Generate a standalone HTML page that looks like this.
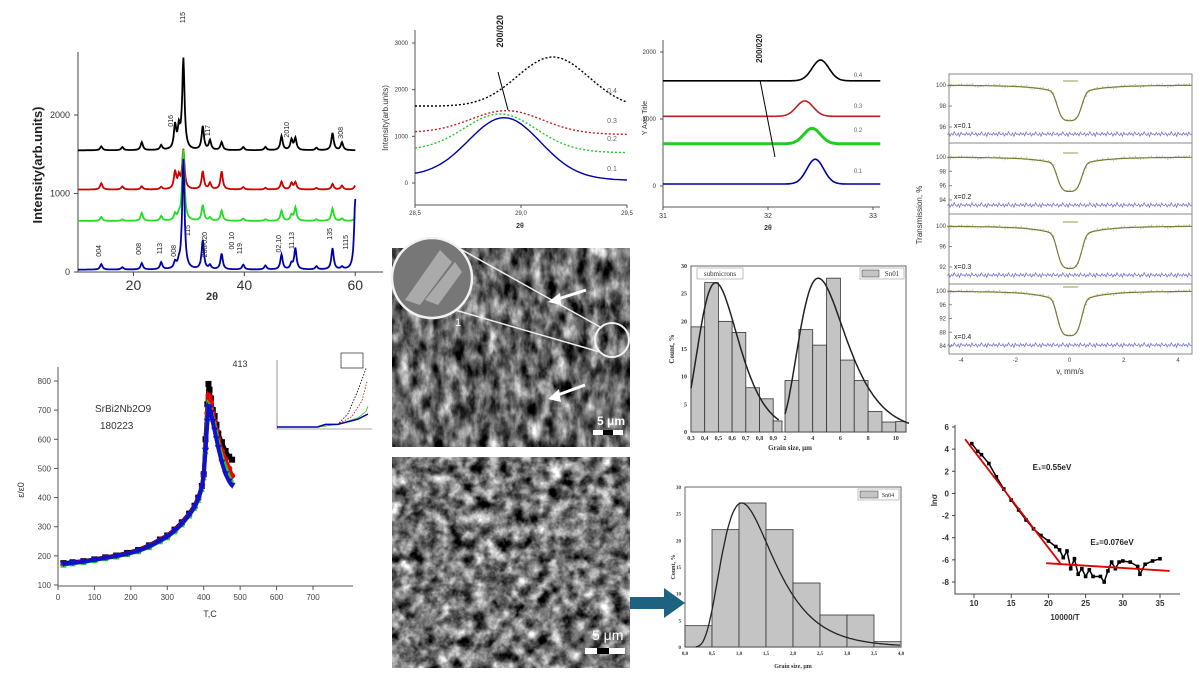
<!DOCTYPE html>
<html><head><meta charset="utf-8"><style>
html,body{margin:0;padding:0;background:#fff;}
svg{display:block;font-family:"Liberation Sans",sans-serif;}
</style></head><body>
<svg id="root" width="1200" height="675" viewBox="0 0 1200 675">
<defs>
<filter id="sem1" x="0" y="0" width="100%" height="100%" color-interpolation-filters="sRGB"><feTurbulence type="fractalNoise" baseFrequency="0.09 0.05" numOctaves="4" seed="3"/><feColorMatrix type="matrix" values="0.8 0.8 0.8 0 -0.8  0.8 0.8 0.8 0 -0.8  0.8 0.8 0.8 0 -0.8  0 0 0 0 1"/></filter>
<filter id="sem2" x="0" y="0" width="100%" height="100%" color-interpolation-filters="sRGB"><feTurbulence type="fractalNoise" baseFrequency="0.08" numOctaves="4" seed="7"/><feColorMatrix type="matrix" values="0.9 0.9 0.9 0 -0.9  0.9 0.9 0.9 0 -0.9  0.9 0.9 0.9 0 -0.9  0 0 0 0 1"/></filter>
</defs>
<g id="g-xrd"></g>
<g id="g-z1"></g>
<g id="g-z2"></g>
<g id="g-mb"></g>
<g id="g-diel"></g>
<g id="g-sem">
<rect x="392" y="248" width="238" height="199" fill="#555"/>
<rect x="392" y="248" width="238" height="199" fill="#777" filter="url(#sem1)"/>
<rect x="392" y="457" width="238" height="211" fill="#555"/>
<rect x="392" y="457" width="238" height="211" fill="#777" filter="url(#sem2)"/>
<line x1="455" y1="246" x2="602" y2="328" stroke="#eee" stroke-width="1.5"/>
<line x1="455" y1="310" x2="600" y2="352" stroke="#eee" stroke-width="1.5"/>
<circle cx="432" cy="278" r="40" fill="#777" stroke="#f2f2f2" stroke-width="2.5"/>
<path d="M405,300 L440,250 L452,262 L420,305 Z M425,300 L455,262 L462,272 L438,305Z" fill="#aaa"/>
<circle cx="612" cy="340" r="17" fill="none" stroke="#f2f2f2" stroke-width="2"/>
<text x="455" y="326" fill="#fff" font-size="11">1</text>
<path d="M586,290 L555,300" stroke="#fff" stroke-width="3"/><path d="M548,302 L560,293 L561,305Z" fill="#fff"/>
<path d="M585,385 L555,396" stroke="#fff" stroke-width="3"/><path d="M548,399 L559,389 L561,402Z" fill="#fff"/>
<text x="597" y="425" fill="#fff" font-size="12" font-weight="bold">5 μm</text>
<rect x="593" y="430" width="30" height="5" fill="#fff"/><rect x="603" y="430" width="10" height="5" fill="#000"/>
<text x="592" y="640" fill="#fff" font-size="14">5 μm</text>
<rect x="585" y="648" width="40" height="6" fill="#fff"/><rect x="597" y="648" width="12" height="6" fill="#000"/>
<rect x="630" y="597" width="36" height="12" fill="#1e6282"/><path d="M664,588 L685,603 L664,618Z" fill="#1e6282"/>
</g>
<g id="g-h1"></g>
<g id="g-h2"></g>
<g id="g-arr"></g>
</svg>
<script>
// ---------- DATA ----------
const xrdPeakPos=[14.2,18,21.5,25,27.5,28.2,29,32.5,33.8,35.9,39.8,43.8,46.7,48.5,49.2,53,55.9,57.6,60];
const xrdBlack=[50,40,100,60,300,250,1150,300,120,100,40,40,180,130,150,30,220,100,0];
const xrdRed=[80,40,40,30,220,150,500,230,80,230,30,20,100,80,90,20,70,50,50];
const xrdGreen=[50,20,100,60,80,60,900,200,40,130,30,20,130,70,170,20,160,30,50];
const xrdBlue=[70,30,80,90,80,60,1400,370,50,200,60,50,190,70,270,40,270,30,900];
const xrdBase=[1550,1050,650,30];
const xrdYTicks=[0,1000,2000];
const xrdXTicks=[20,40,60];
const z1Base=[1650,1080,700,150];
const z1End=[1600,1040,650,60];
const z1Peak=[2700,1550,1480,1400];
const z1Center=[29.15,28.93,28.9,28.92];
const z1Labels=["0.4","0.3","0.2","0.1"];
const z1XTicks=[28.5,29.0,29.5];
const z1YTicks=[0,1000,2000,3000];
const z2Base=[1570,1040,630,30];
const z2Peak=[1880,1270,860,400];
const z2Center=[32.5,32.35,32.42,32.45];
const z2XTicks=[31,32,33];
const z2YTicks=[0,1000,2000];
const mbDepth=[3.4,4.8,8.3,13];
const mbLabels=["x=0.1","x=0.2","x=0.3","x=0.4"];
const mbYTicks=[[100,98,96],[100,98,96,94],[100,96,92],[100,96,92,88,84]];
const mbResid=[0.3,-0.5,0.8,-0.2,0.4,-0.9,0.1,0.6,-0.4,0.9,-0.7,0.2,-0.1,0.5,-0.6,0.3,-0.3,0.7,-0.8,0.1];
const mbXTicks=[-4,-2,0,2,4];
const dielT=[15,40,70,100,130,160,190,220,250,280,300,320,340,360,375,385,395,400,405,410,413,416,420,425,430,435,440,450,460,470,478];
const dielBlack=[175,178,182,188,195,201,210,220,236,256,270,290,315,345,372,400,440,480,600,720,790,770,740,700,680,650,620,590,560,540,530];
const dielRed=[172,176,181,187,194,200,208,218,234,254,268,288,312,342,370,398,438,480,570,690,750,745,730,690,660,630,600,560,530,500,475];
const dielGreen=[170,174,179,185,192,198,206,216,230,250,264,284,308,338,365,392,430,470,560,670,720,715,700,670,645,615,585,540,505,470,455];
const dielBlue=[172,176,180,186,193,199,207,217,232,252,266,286,310,340,368,395,435,475,560,660,710,705,690,660,630,600,570,520,480,455,440];
const dielXTicks=[0,100,200,300,400,500,600,700];
const dielYTicks=[100,200,300,400,500,600,700,800];
const h1LeftBins=[0.3,0.4,0.5,0.6,0.7,0.8,0.9];
const h1LeftVals=[19,27,20,18,8,6,2];
const h1RightBins=[2,3,4,5,6,7,8,9,10];
const h1RightVals=[9.3,18.5,15.7,27.8,13,9.3,3.7,1.8,1.9];
const h2Bins=[0,0.5,1,1.5,2,2.5,3,3.5];
const h2Vals=[4,22,27,22,12,6,6,1];
const arrX=[9.7,10.5,11,12,13,14,15,16,17,18,19,20,21,21.5,22,22.5,23,23.5,24,24.5,25,25.5,26,27,27.5,28,28.5,29,29.5,30,31,32,32.3,33,34,35];
const arrY=[4.5,3.8,3.5,2.7,1.5,0.4,-0.6,-1.5,-2.4,-3.2,-3.8,-4.3,-4.8,-5.1,-5.8,-5.2,-6.8,-5.9,-7.3,-6.8,-7.5,-6.9,-7.5,-7.5,-8,-7,-6.2,-6.8,-6.2,-6.1,-6.2,-6.6,-7.3,-6.4,-6.1,-5.9];
const arrFit1=[[8.8,4.9],[21.6,-6.3]];
const arrFit2=[[19.7,-6.3],[36.3,-7.0]];
// ---------- HELPERS ----------
const NS="http://www.w3.org/2000/svg";
function lin(d0,d1,r0,r1){return v=>r0+(v-d0)*(r1-r0)/(d1-d0);}
function mk(parent,tag,attrs,txt){const e=document.createElementNS(NS,tag);for(const k in attrs)e.setAttribute(k,attrs[k]);if(txt!==undefined)e.textContent=txt;parent.appendChild(e);return e;}
function txt(g,x,y,s,size,opt){opt=opt||{};const e=mk(g,'text',{x:x,y:y,'font-size':size,fill:opt.fill||'#333','text-anchor':opt.anchor||'middle','font-weight':opt.bold?'bold':'normal','font-family':opt.serif?'"Liberation Serif",serif':'"Liberation Sans",sans-serif'},s);if(opt.rot!==undefined)e.setAttribute('transform','rotate('+opt.rot+' '+x+' '+y+')');return e;}
function pathD(pts){return pts.map((p,i)=>(i?'L':'M')+p[0].toFixed(1)+','+p[1].toFixed(1)).join('');}
// ---------- XRD ----------
(function(){
const g=document.getElementById('g-xrd');
const X=lin(10,65,78,383),Y=lin(0,2000,272,115);
mk(g,'path',{d:'M78,52V272H383',fill:'none',stroke:'#444'});
xrdYTicks.forEach(t=>{mk(g,'line',{x1:74,x2:78,y1:Y(t),y2:Y(t),stroke:'#444'});txt(g,70,Y(t)+3,t,9,{anchor:'end'});});
xrdXTicks.forEach(t=>{mk(g,'line',{x1:X(t),x2:X(t),y1:272,y2:276,stroke:'#444'});txt(g,X(t),290,t,14);});
txt(g,42,165,'Intensity(arb.units)',13,{rot:-90,bold:true,fill:'#222'});
txt(g,212,300,'2θ',11,{bold:true});
const sets=[[xrdBlack,'#000'],[xrdRed,'#c00'],[xrdGreen,'#2d2'],[xrdBlue,'#00a']];
sets.forEach((s,si)=>{const pts=[];for(let x=10;x<=60.01;x+=0.1){let v=xrdBase[si];xrdPeakPos.forEach((p,i)=>{const d=(x-p)/0.25;v+=s[0][i]/(1+d*d);});pts.push([X(x),Y(v)]);}
const p=mk(g,'path',{d:pathD(pts),fill:'none',stroke:s[1],'stroke-width':1.8});

});
[['016',173,115],['115',185,12],['117',210,125],['2010',289,122],['308',343,127],['004',101,245],['008',141,243],['113',162,243],['008',176,245],['115',190,225],['200/020',207,232],['00 10',234,232],['119',242,243],['02,10',281,235],['11.13',294,232],['135',332,228],['1115',348,235]].forEach(l=>txt(g,l[1],l[2],l[0],7,{rot:-90,anchor:'end',fill:'#222'}));
})();
// ---------- ZOOM 1 ----------
(function(){
const g=document.getElementById('g-z1');
const X=lin(28.5,29.5,415,627),Y=lin(0,3000,183,43);
mk(g,'path',{d:'M415,30V205H627',fill:'none',stroke:'#555'});
z1YTicks.forEach(t=>{mk(g,'line',{x1:412,x2:415,y1:Y(t),y2:Y(t),stroke:'#555'});txt(g,408,Y(t)+2,t,6,{anchor:'end'});});
z1XTicks.forEach(t=>{mk(g,'line',{x1:X(t),x2:X(t),y1:205,y2:208,stroke:'#555'});txt(g,X(t),215,t.toFixed(1).replace('.',','),6);});
txt(g,388,118,'Intensity(arb.units)',8,{rot:-90});
txt(g,520,228,'2θ',7,{bold:true});
const cols=['#000','#b22','#2c2','#00a'];
z1Base.forEach((b,si)=>{const pts=[];for(let x=28.5;x<=29.5;x+=0.02){const base=b+(z1End[si]-b)*(x-28.5);const d=(x-z1Center[si])/0.17;pts.push([X(x),Y(base+(z1Peak[si]-base)*Math.exp(-d*d/2))]);}
const p=mk(g,'path',{d:pathD(pts),fill:'none',stroke:cols[si],'stroke-width':1.4,'stroke-dasharray':si==3?'none':'2 2'});


txt(g,612,[93,123,141,171][si],z1Labels[si],7,{fill:'#666'});});
mk(g,'line',{x1:498,y1:72,x2:508,y2:110,stroke:'#000'});
txt(g,503,15,'200/020',9,{rot:-90,anchor:'end',bold:true,fill:'#222'});
})();
// ---------- ZOOM 2 ----------
(function(){
const g=document.getElementById('g-z2');
const X=lin(31,33,663,873),Y=lin(0,2000,186,52);
mk(g,'path',{d:'M663,40V207H880',fill:'none',stroke:'#555'});
z2YTicks.forEach(t=>{mk(g,'line',{x1:660,x2:663,y1:Y(t),y2:Y(t),stroke:'#555'});txt(g,656,Y(t)+2,t,6,{anchor:'end'});});
z2XTicks.forEach(t=>{mk(g,'line',{x1:X(t),x2:X(t),y1:207,y2:210,stroke:'#555'});txt(g,X(t),218,t,7);});
txt(g,647,118,'Y Axis Title',7,{rot:-90});
txt(g,768,230,'2θ',7,{bold:true});
const cols=['#000','#b22','#2c2','#00a'];
z2Base.forEach((b,si)=>{const pts=[];for(let x=31;x<=33.07;x+=0.01){const d=(x-z2Center[si])/0.08;pts.push([X(x),Y(b+(z2Peak[si]-b)*Math.exp(-d*d/2))]);}
const p=mk(g,'path',{d:pathD(pts),fill:'none',stroke:cols[si],'stroke-width':si==2?3:1.6});


txt(g,858,[77,108,132,173][si],z1Labels[si],6,{fill:'#666'});});
mk(g,'line',{x1:760,y1:80,x2:775,y2:157,stroke:'#000'});
txt(g,762,34,'200/020',8,{rot:-90,anchor:'end',bold:true,fill:'#222'});
})();
// ---------- MOSSBAUER ----------
(function(){
const g=document.getElementById('g-mb');
const X=lin(-4,4,961,1178);
const panels=[[74,143,100,96,85,127],[143,214,100,94,157,200],[214,284,100,92,226,267],[284,354,100,84,291,346]];
mk(g,'rect',{x:949,y:74,width:243,height:280,fill:'none',stroke:'#888'});
panels.forEach((pn,i)=>{
 const Y=lin(pn[2],pn[3],pn[4],pn[5]);
 if(i) mk(g,'line',{x1:949,x2:1192,y1:pn[0],y2:pn[0],stroke:'#888'});
 mbYTicks[i].forEach(t=>{txt(g,946,Y(t)+2,t,6,{anchor:'end',fill:'#444'});mk(g,'line',{x1:949,x2:952,y1:Y(t),y2:Y(t),stroke:'#888'});});
 const fit=[],res=[];let dots='';
 for(let k=0;k<=180;k++){const v=-4.5+k*0.05;const gs=Math.exp(-Math.pow(v/0.42,4)/2);const lz=1/(1+Math.pow(v/0.9,2));const f=100-mbDepth[i]*(0.75*gs+0.25*lz);fit.push([X(v),Y(f)]);
  const r=mbResid[k%mbResid.length];res.push([X(v),pn[1]-9+r*2.5]);
  if(k%2==0)dots+=`M${X(v).toFixed(1)},${(Y(f)+r*2).toFixed(1)}h1.2`;}
 mk(g,'path',{d:dots,stroke:'#bb9',fill:'none','stroke-width':1.2});
 const p=mk(g,'path',{d:pathD(fit),fill:'none',stroke:'#7a7a30','stroke-width':1.2});
 
 
 const r=mk(g,'path',{d:pathD(res),fill:'none',stroke:'#77c','stroke-width':0.8});
 
 
 mk(g,'line',{x1:1063,x2:1078,y1:Y(100)-4,y2:Y(100)-4,stroke:'#aa6','stroke-width':1.2});
 txt(g,954,pn[1]-15,mbLabels[i],7,{anchor:'start',fill:'#222'});
});
mbXTicks.forEach(t=>{txt(g,X(t),362,t,6,{fill:'#444'});});
txt(g,1070,374,'v, mm/s',8,{fill:'#333'});
txt(g,922,215,'Transmission, %',8,{rot:-90,fill:'#333'});
})();
// ---------- DIELECTRIC ----------
(function(){
const g=document.getElementById('g-diel');
const X=lin(0,700,58,313),Y=lin(100,800,585,381);
mk(g,'path',{d:'M58,367V586H353',fill:'none',stroke:'#555'});
dielYTicks.forEach(t=>{mk(g,'line',{x1:54,x2:58,y1:Y(t),y2:Y(t),stroke:'#555'});txt(g,51,Y(t)+3,t,8,{anchor:'end',fill:'#444'});});
dielXTicks.forEach(t=>{mk(g,'line',{x1:X(t),x2:X(t),y1:586,y2:590,stroke:'#555'});txt(g,X(t),600,t,8,{fill:'#444'});});
txt(g,210,617,'T,C',9,{fill:'#333'});
txt(g,24,490,'ε/ε0',9,{rot:-90,fill:'#333'});
txt(g,95,412,'SrBi2Nb2O9',10,{anchor:'start',fill:'#333'});
txt(g,100,429,'180223',10,{anchor:'start',fill:'#333'});
txt(g,240,367,'413',9,{fill:'#333'});
const sets=[[dielBlack,'#000','sq'],[dielRed,'#e00','ci'],[dielGreen,'#2c2','tu'],[dielBlue,'#11c','td']];
sets.forEach((s,si)=>{const pts=dielT.map((t,i)=>[X(t),Y(s[0][i])]);
 const p=mk(g,'path',{d:pathD(pts),fill:'none',stroke:s[1],'stroke-width':4});
 
 
 pts.forEach(q=>{if(s[2]=='sq')mk(g,'rect',{x:q[0]-3,y:q[1]-3,width:6,height:6,fill:s[1]});else if(s[2]=='ci')mk(g,'circle',{cx:q[0],cy:q[1],r:3,fill:s[1]});else if(s[2]=='tu')mk(g,'path',{d:`M${q[0]-3},${q[1]+3}h6l-3,-6z`,fill:s[1]});else mk(g,'path',{d:`M${q[0]-3.5},${q[1]-3}h7l-3.5,6z`,fill:s[1]});});});
mk(g,'path',{d:'M277,360V429H372',fill:'none',stroke:'#555','stroke-width':0.6});
const IX=lin(0,450,277,368),IY=lin(0,0.5,427,362);
const insetSets=[[[0,200,300,350,400,440],[0,0,0.02,0.1,0.28,0.45],'#000'],[[0,200,300,370,420,445],[0,0,0.02,0.08,0.2,0.35],'#c00'],[[0,200,300,400,440,450],[0,0,0.02,0.07,0.12,0.16],'#2c2'],[[0,200,240,300,400,450],[0,0,0.02,0.02,0.06,0.1],'#00a']];
insetSets.forEach((s,si)=>{const p=mk(g,'path',{d:pathD(s[0].map((t,i)=>[IX(t),IY(s[1][i])])),fill:'none',stroke:s[2],'stroke-width':si==3?1.5:0.8,'stroke-dasharray':si<2?'1.5 1.5':'none'});
 
 });
mk(g,'rect',{x:341,y:353,width:22,height:15,fill:'#fff',stroke:'#000','stroke-width':0.6,});
})();
// ---------- HISTOGRAM 1 ----------
(function(){
const g=document.getElementById('g-h1');
const Y=lin(0,30,432,266);
const XL=lin(0.3,0.4,691,704.7),XR=lin(2,4,785,812.7);
mk(g,'rect',{x:691,y:266,width:215,height:166,fill:'#fff',stroke:'#666'});
h1LeftBins.forEach((b,i)=>{const x0=XL(b),x1=i==6?782:XL(b+0.1);const r=mk(g,'rect',{x:x0,y:Y(h1LeftVals[i]),width:x1-x0,height:432-Y(h1LeftVals[i]),fill:'#c4c4c4',stroke:'#333','stroke-width':0.8});
 
 });
h1RightBins.forEach((b,i)=>{const x0=XR(b),x1=Math.min(XR(b+1),906);const r=mk(g,'rect',{x:x0,y:Y(h1RightVals[i]),width:x1-x0,height:432-Y(h1RightVals[i]),fill:'#c4c4c4',stroke:'#333','stroke-width':0.8});
 
 });
const c1=[],c2=[];
for(let x=0.3;x<=0.95;x+=0.01){const d=Math.log(x/0.48)/0.3;c1.push([XL(x),Y(27*Math.exp(-d*d/2))]);}
for(let x=2;x<=11;x+=0.05){const d=Math.log(x/4.4)/0.38;c2.push([XR(x),Y(27.8*Math.exp(-d*d/2))]);}
mk(g,'path',{d:pathD(c1),fill:'none',stroke:'#222','stroke-width':1.5});
mk(g,'path',{d:pathD(c2),fill:'none',stroke:'#222','stroke-width':1.5});
[0,5,10,15,20,25,30].forEach(t=>txt(g,687,Y(t)+2,t,6,{anchor:'end',bold:true,serif:true}));
['0,3','0,4','0,5','0,6','0,7','0,8','0,9'].forEach((l,i)=>txt(g,XL(0.3+i*0.1),440,l,6,{bold:true,serif:true}));
[2,4,6,8,10].forEach(t=>txt(g,XR(t),440,t,6,{bold:true,serif:true}));
txt(g,790,450,'Grain size, μm',7,{bold:true,serif:true});
txt(g,674,349,'Count, %',7,{rot:-90,bold:true,serif:true});
mk(g,'rect',{x:697,y:268,width:46,height:11,fill:'#fff',stroke:'#999','stroke-width':0.6});
txt(g,720,276,'submicrons',7,{serif:true});
mk(g,'rect',{x:860,y:268,width:44,height:11,fill:'#fff',stroke:'#999','stroke-width':0.6});
mk(g,'rect',{x:862,y:270,width:17,height:7,fill:'#c4c4c4',stroke:'#333','stroke-width':0.5});
txt(g,892,276,'Sn01',7,{serif:true});
})();
// ---------- HISTOGRAM 2 ----------
(function(){
const g=document.getElementById('g-h2');
const X=lin(0,4,685,901),Y=lin(0,30,647,487);
mk(g,'rect',{x:685,y:487,width:216,height:160,fill:'#fff',stroke:'#666'});
h2Bins.forEach((b,i)=>{const r=mk(g,'rect',{x:X(b),y:Y(h2Vals[i]),width:X(b+0.5)-X(b),height:647-Y(h2Vals[i]),fill:'#c4c4c4',stroke:'#333','stroke-width':0.8});
 
 });
const c=[];for(let x=0.2;x<=4;x+=0.02){const d=Math.log(x/1.05)/0.45;c.push([X(x),Y(27*Math.exp(-d*d/2))]);}
mk(g,'path',{d:pathD(c),fill:'none',stroke:'#222','stroke-width':1.3});
[0,5,10,15,20,25,30].forEach(t=>txt(g,681,Y(t)+2,t,5,{anchor:'end',bold:true,serif:true}));
['0,0','0,5','1,0','1,5','2,0','2,5','3,0','3,5','4,0'].forEach((l,i)=>txt(g,X(i*0.5),655,l,5,{bold:true,serif:true}));
txt(g,793,668,'Grain size, μm',6,{bold:true,serif:true});
txt(g,675,567,'Count, %',6,{rot:-90,bold:true,serif:true});
mk(g,'rect',{x:858,y:489,width:41,height:11,fill:'#fff',stroke:'#999','stroke-width':0.6});
mk(g,'rect',{x:860,y:491,width:18,height:7,fill:'#c4c4c4',stroke:'#333','stroke-width':0.5});
txt(g,888,497,'Sn04',6,{serif:true});
})();
// ---------- ARRHENIUS ----------
(function(){
const g=document.getElementById('g-arr');
const X=lin(10,35,974,1160),Y=lin(6,-8,427,582);
mk(g,'path',{d:'M955,425V594H1180',fill:'none',stroke:'#444'});
[6,4,2,0,-2,-4,-6,-8].forEach(t=>{mk(g,'line',{x1:952,x2:955,y1:Y(t),y2:Y(t),stroke:'#444'});txt(g,949,Y(t)+3,t,8,{anchor:'end',bold:true,fill:'#333'});});
[10,15,20,25,30,35].forEach(t=>{mk(g,'line',{x1:X(t),x2:X(t),y1:594,y2:598,stroke:'#444'});txt(g,X(t),606,t,8,{bold:true,fill:'#333'});});
txt(g,1065,620,'10000/T',8,{bold:true,fill:'#333'});
txt(g,937,500,'lnσ',8,{rot:-90,bold:true,fill:'#333'});
txt(g,1052,470,'E₁=0.55eV',8,{bold:true,fill:'#222'});
txt(g,1112,545,'E₂=0.076eV',8,{bold:true,fill:'#222'});
const pts=arrX.map((x,i)=>[X(x),Y(arrY[i])]);
const p=mk(g,'path',{d:pathD(pts),fill:'none',stroke:'#000','stroke-width':1.5});


pts.forEach(q=>mk(g,'rect',{x:q[0]-1.8,y:q[1]-1.8,width:3.6,height:3.6,fill:'#000'}));
[arrFit1,arrFit2].forEach((f,i)=>{const l=mk(g,'line',{x1:X(f[0][0]),y1:Y(f[0][1]),x2:X(f[1][0]),y2:Y(f[1][1]),stroke:'#d00','stroke-width':1.8});
 
 });
})();
</script>
</body></html>
